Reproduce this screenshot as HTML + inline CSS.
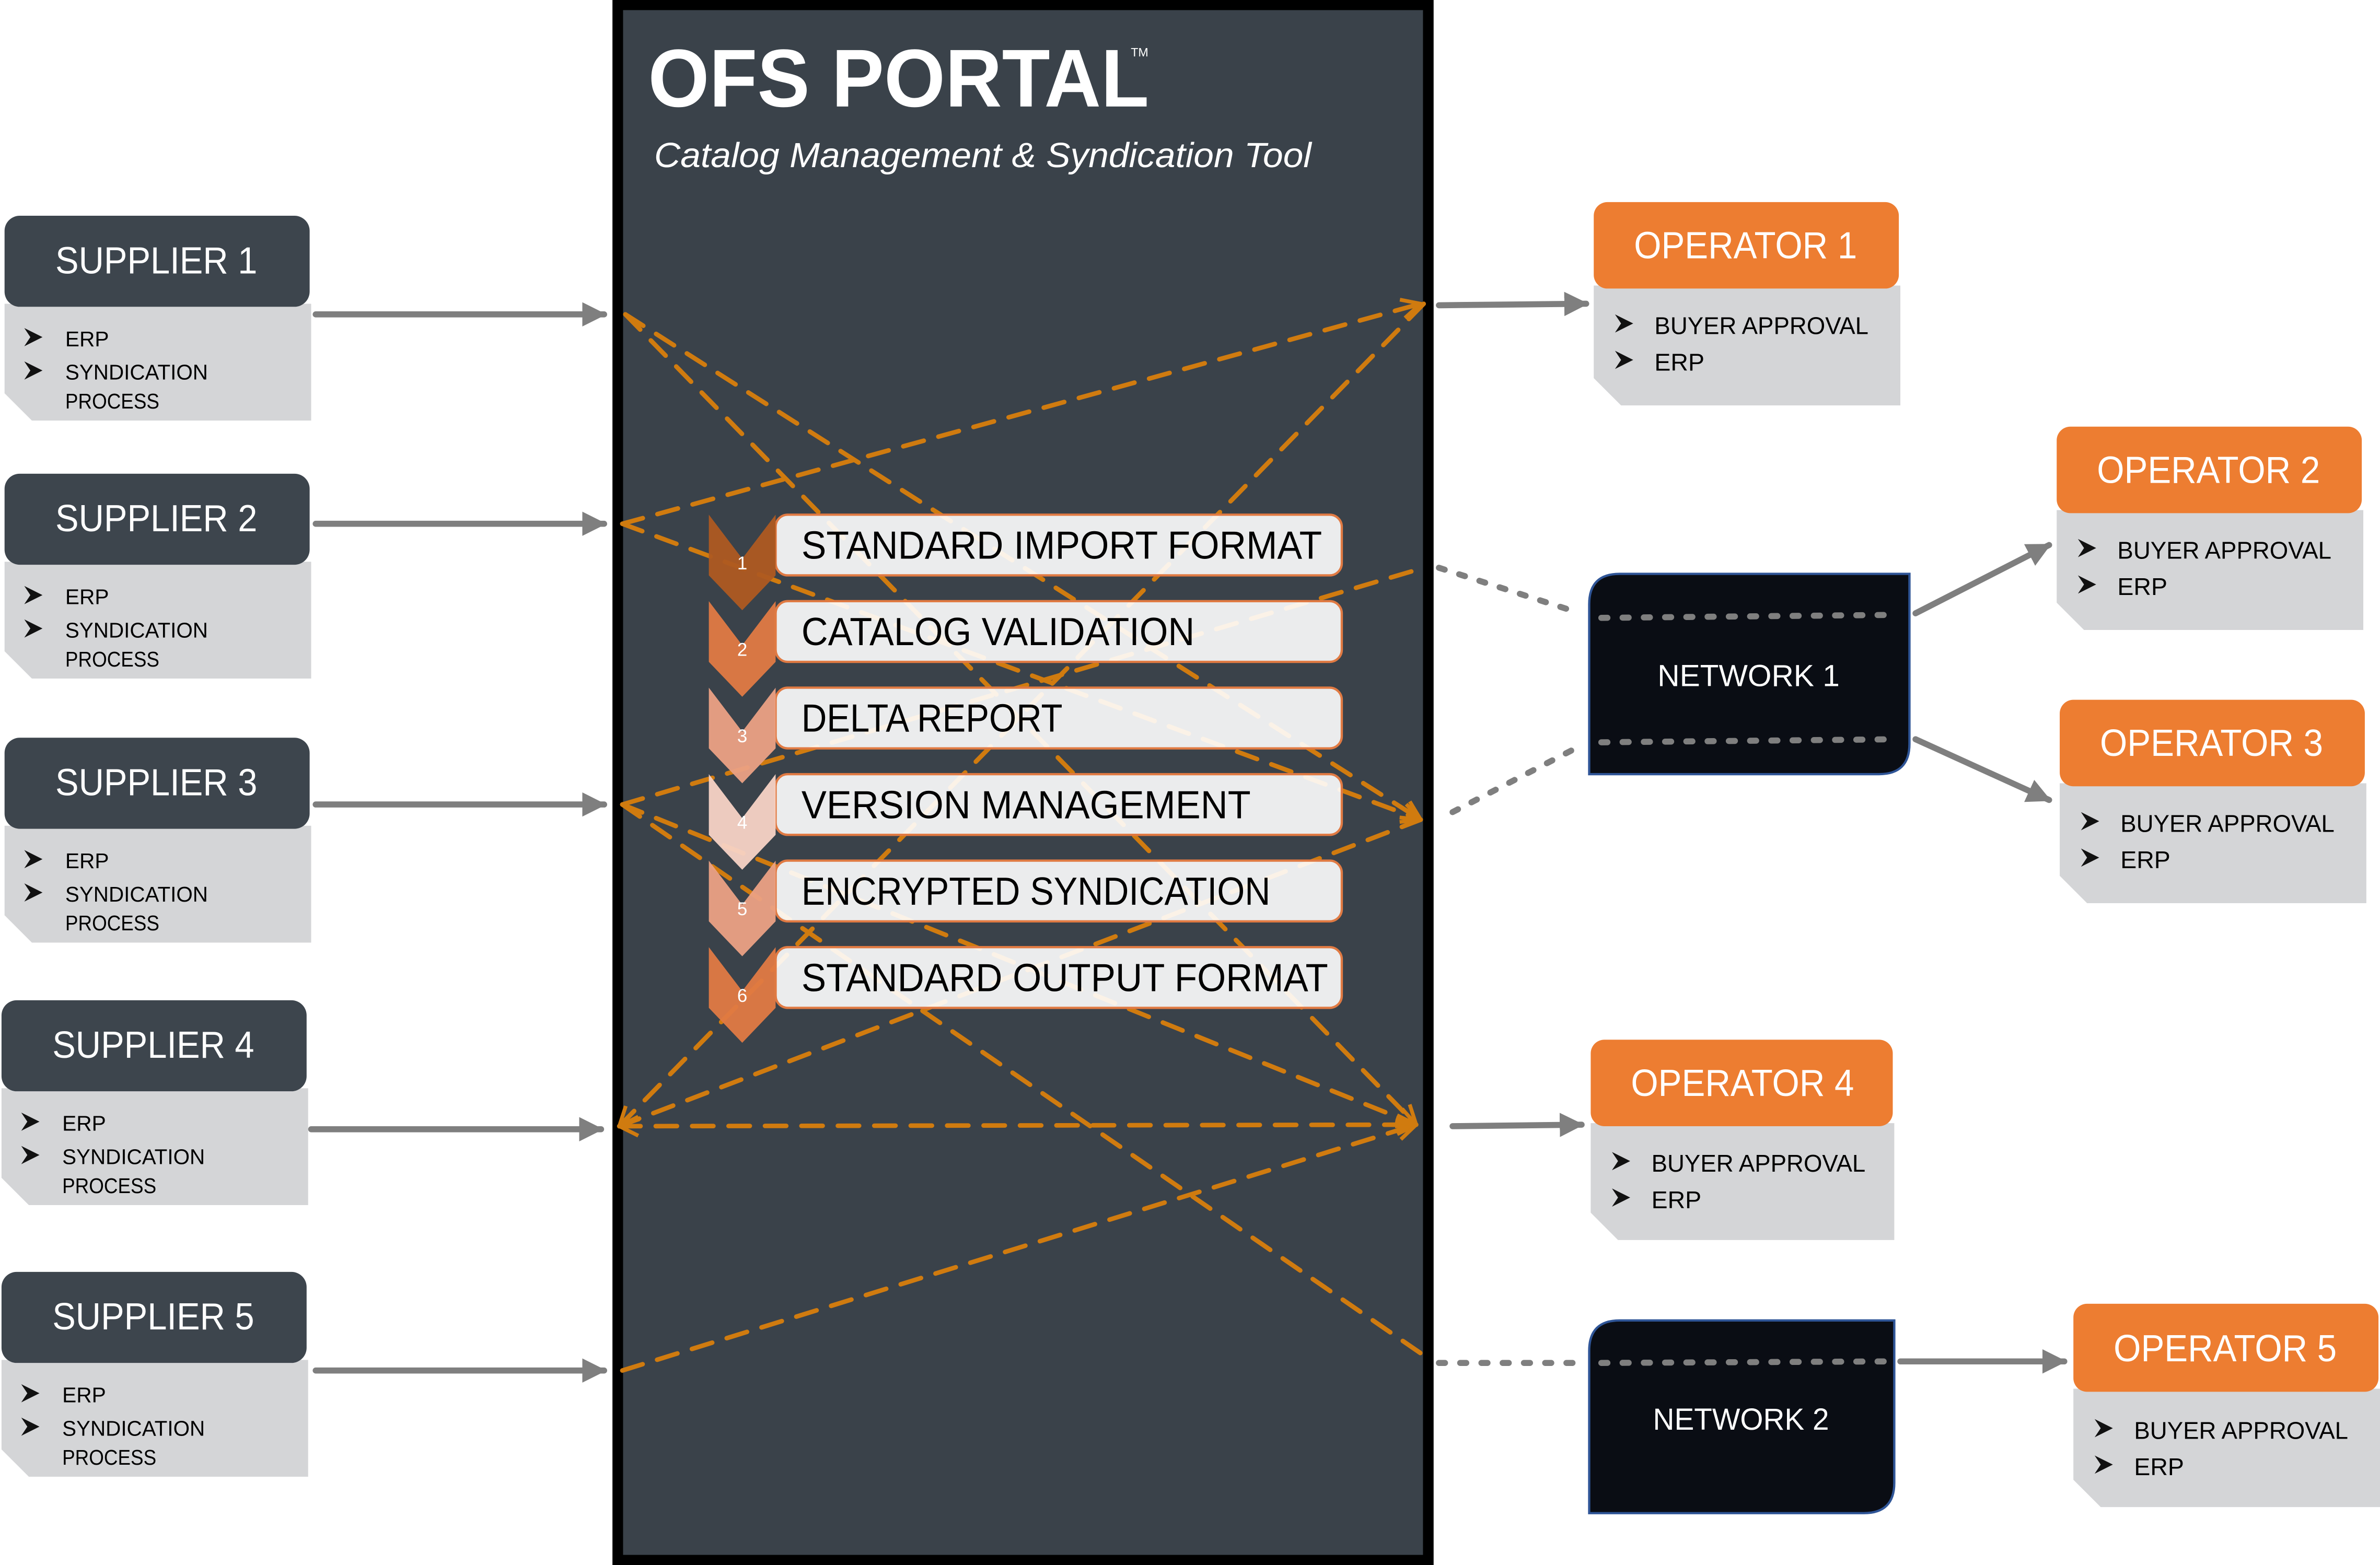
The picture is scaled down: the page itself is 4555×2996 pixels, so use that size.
<!DOCTYPE html>
<html><head><meta charset="utf-8"><style>html,body{margin:0;padding:0;background:#fff}svg{display:block}</style></head>
<body>
<svg width="4555" height="2996" viewBox="0 0 1568 1031" xmlns="http://www.w3.org/2000/svg" font-family="'Liberation Sans', 'DejaVu Sans', sans-serif">
<defs>
<marker id="ga" viewBox="0 0 10 10" refX="9" refY="5" markerWidth="4" markerHeight="4" orient="auto" markerUnits="strokeWidth"><path d="M0,0 L10,5 L0,10 z" fill="#7f7f7f"/></marker>
<marker id="oa" viewBox="0 0 12 12" refX="11" refY="6" markerWidth="5" markerHeight="5" orient="auto" markerUnits="strokeWidth"><path d="M1,1 L11,6 L1,11" fill="none" stroke="#d07b0f" stroke-width="2"/></marker>
<marker id="oas" viewBox="0 0 12 12" refX="11" refY="6" markerWidth="5" markerHeight="5" orient="auto-start-reverse" markerUnits="strokeWidth"><path d="M1,1 L11,6 L1,11" fill="none" stroke="#d07b0f" stroke-width="2"/></marker>
<g id="bul"><path d="M0,-6 L12,0 L0,6 L4,0 z" fill="#111"/></g>
</defs>
<rect width="1568" height="1031" fill="#fff"/>

<!-- Portal -->
<rect x="407" y="3" width="534" height="1025" fill="#3a424a" stroke="#000" stroke-width="7"/>
<text x="427" y="70" font-size="54" font-weight="bold" fill="#fff" textLength="330" lengthAdjust="spacingAndGlyphs">OFS PORTAL</text>
<text x="745" y="37" font-size="8" fill="#fff">TM</text>
<text x="431" y="110" font-size="23" font-style="italic" fill="#fff" textLength="433" lengthAdjust="spacingAndGlyphs">Catalog Management &amp; Syndication Tool</text>

<!-- orange dashed lines -->
<g stroke="#d07b0f" stroke-width="3" stroke-dasharray="14 10" fill="none" stroke-linecap="round">
<line x1="412" y1="207" x2="936" y2="540" marker-end="url(#oa)"/>
<line x1="412" y1="207" x2="933" y2="741" marker-end="url(#oa)"/>
<line x1="410" y1="345" x2="936" y2="200" marker-end="url(#oa)"/>
<line x1="410" y1="345" x2="936" y2="540" marker-end="url(#oa)"/>
<line x1="410" y1="530" x2="938" y2="374"/>
<line x1="410" y1="530" x2="933" y2="741" marker-end="url(#oa)"/>
<line x1="410" y1="530" x2="938" y2="893"/>
<line x1="408" y1="742" x2="938" y2="200" marker-start="url(#oas)"/>
<line x1="408" y1="742" x2="936" y2="540"/>
<line x1="408" y1="742" x2="933" y2="741" marker-start="url(#oas)" marker-end="url(#oa)"/>
<line x1="410" y1="903" x2="933" y2="741" marker-end="url(#oa)"/>
</g>

<!-- steps -->
<g>
<rect x="511" y="339" width="373" height="40" rx="8" fill="#fff" fill-opacity="0.9" stroke="#e07a43" stroke-width="1.5"/>
<polygon points="467,339 489,368 511,339 511,379 489,402 467,379" fill="#ae5a21" opacity="0.95"/>
<rect x="511" y="396" width="373" height="40" rx="8" fill="#fff" fill-opacity="0.9" stroke="#e07a43" stroke-width="1.5"/>
<polygon points="467,396 489,425 511,396 511,436 489,459 467,436" fill="#e07a43" opacity="0.95"/>
<rect x="511" y="453" width="373" height="40" rx="8" fill="#fff" fill-opacity="0.9" stroke="#e07a43" stroke-width="1.5"/>
<polygon points="467,453 489,482 511,453 511,493 489,516 467,493" fill="#eba184" opacity="0.95"/>
<rect x="511" y="510" width="373" height="40" rx="8" fill="#fff" fill-opacity="0.9" stroke="#e07a43" stroke-width="1.5"/>
<polygon points="467,510 489,539 511,510 511,550 489,573 467,550" fill="#f7d3c5" opacity="0.95"/>
<rect x="511" y="567" width="373" height="40" rx="8" fill="#fff" fill-opacity="0.9" stroke="#e07a43" stroke-width="1.5"/>
<polygon points="467,567 489,596 511,567 511,607 489,630 467,607" fill="#eba184" opacity="0.95"/>
<rect x="511" y="624" width="373" height="40" rx="8" fill="#fff" fill-opacity="0.9" stroke="#e07a43" stroke-width="1.5"/>
<polygon points="467,624 489,653 511,624 511,664 489,687 467,664" fill="#e07a43" opacity="0.95"/>
</g>
<g font-size="12" fill="#fff" text-anchor="middle">
<text x="489" y="375">1</text><text x="489" y="432">2</text><text x="489" y="489">3</text><text x="489" y="546">4</text><text x="489" y="603">5</text><text x="489" y="660">6</text>
</g>
<g font-size="26" fill="#000">
<text x="528" y="368" textLength="343" lengthAdjust="spacingAndGlyphs">STANDARD IMPORT FORMAT</text>
<text x="528" y="425" textLength="259" lengthAdjust="spacingAndGlyphs">CATALOG VALIDATION</text>
<text x="528" y="482" textLength="172" lengthAdjust="spacingAndGlyphs">DELTA REPORT</text>
<text x="528" y="539" textLength="296" lengthAdjust="spacingAndGlyphs">VERSION MANAGEMENT</text>
<text x="528" y="596" textLength="309" lengthAdjust="spacingAndGlyphs">ENCRYPTED SYNDICATION</text>
<text x="528" y="653" textLength="347" lengthAdjust="spacingAndGlyphs">STANDARD OUTPUT FORMAT</text>
</g>

<!-- Suppliers -->
<g transform="translate(3,142)">
<polygon points="0,58 202,58 202,135 18,135 0,117" fill="#d4d5d7"/>
<rect x="0" y="0" width="201" height="60" rx="10" fill="#3d454d"/>
<text x="100" y="38" font-size="25" fill="#fff" text-anchor="middle" textLength="133" lengthAdjust="spacingAndGlyphs">SUPPLIER 1</text>
<use href="#bul" x="13" y="80"/><use href="#bul" x="13" y="102"/>
<text x="40" y="86" font-size="14">ERP</text>
<text x="40" y="108" font-size="14" textLength="94" lengthAdjust="spacingAndGlyphs">SYNDICATION</text>
<text x="40" y="127" font-size="14" textLength="62" lengthAdjust="spacingAndGlyphs">PROCESS</text>
</g>
<g transform="translate(3,312)">
<polygon points="0,58 202,58 202,135 18,135 0,117" fill="#d4d5d7"/>
<rect x="0" y="0" width="201" height="60" rx="10" fill="#3d454d"/>
<text x="100" y="38" font-size="25" fill="#fff" text-anchor="middle" textLength="133" lengthAdjust="spacingAndGlyphs">SUPPLIER 2</text>
<use href="#bul" x="13" y="80"/><use href="#bul" x="13" y="102"/>
<text x="40" y="86" font-size="14">ERP</text>
<text x="40" y="108" font-size="14" textLength="94" lengthAdjust="spacingAndGlyphs">SYNDICATION</text>
<text x="40" y="127" font-size="14" textLength="62" lengthAdjust="spacingAndGlyphs">PROCESS</text>
</g>
<g transform="translate(3,486)">
<polygon points="0,58 202,58 202,135 18,135 0,117" fill="#d4d5d7"/>
<rect x="0" y="0" width="201" height="60" rx="10" fill="#3d454d"/>
<text x="100" y="38" font-size="25" fill="#fff" text-anchor="middle" textLength="133" lengthAdjust="spacingAndGlyphs">SUPPLIER 3</text>
<use href="#bul" x="13" y="80"/><use href="#bul" x="13" y="102"/>
<text x="40" y="86" font-size="14">ERP</text>
<text x="40" y="108" font-size="14" textLength="94" lengthAdjust="spacingAndGlyphs">SYNDICATION</text>
<text x="40" y="127" font-size="14" textLength="62" lengthAdjust="spacingAndGlyphs">PROCESS</text>
</g>
<g transform="translate(1,659)">
<polygon points="0,58 202,58 202,135 18,135 0,117" fill="#d4d5d7"/>
<rect x="0" y="0" width="201" height="60" rx="10" fill="#3d454d"/>
<text x="100" y="38" font-size="25" fill="#fff" text-anchor="middle" textLength="133" lengthAdjust="spacingAndGlyphs">SUPPLIER 4</text>
<use href="#bul" x="13" y="80"/><use href="#bul" x="13" y="102"/>
<text x="40" y="86" font-size="14">ERP</text>
<text x="40" y="108" font-size="14" textLength="94" lengthAdjust="spacingAndGlyphs">SYNDICATION</text>
<text x="40" y="127" font-size="14" textLength="62" lengthAdjust="spacingAndGlyphs">PROCESS</text>
</g>
<g transform="translate(1,838)">
<polygon points="0,58 202,58 202,135 18,135 0,117" fill="#d4d5d7"/>
<rect x="0" y="0" width="201" height="60" rx="10" fill="#3d454d"/>
<text x="100" y="38" font-size="25" fill="#fff" text-anchor="middle" textLength="133" lengthAdjust="spacingAndGlyphs">SUPPLIER 5</text>
<use href="#bul" x="13" y="80"/><use href="#bul" x="13" y="102"/>
<text x="40" y="86" font-size="14">ERP</text>
<text x="40" y="108" font-size="14" textLength="94" lengthAdjust="spacingAndGlyphs">SYNDICATION</text>
<text x="40" y="127" font-size="14" textLength="62" lengthAdjust="spacingAndGlyphs">PROCESS</text>
</g>

<!-- gray arrows -->
<g stroke="#7f7f7f" stroke-width="4" fill="none" stroke-linecap="round">
<line x1="208" y1="207" x2="398" y2="207" marker-end="url(#ga)"/>
<line x1="208" y1="345" x2="398" y2="345" marker-end="url(#ga)"/>
<line x1="208" y1="530" x2="398" y2="530" marker-end="url(#ga)"/>
<line x1="205" y1="744" x2="396" y2="744" marker-end="url(#ga)"/>
<line x1="208" y1="903" x2="398" y2="903" marker-end="url(#ga)"/>
<line x1="948" y1="201" x2="1045" y2="200" marker-end="url(#ga)"/>
<line x1="1262" y1="404" x2="1350" y2="359" marker-end="url(#ga)"/>
<line x1="1262" y1="487" x2="1350" y2="527" marker-end="url(#ga)"/>
<line x1="957" y1="742" x2="1042" y2="741" marker-end="url(#ga)"/>
<line x1="1252" y1="897" x2="1360" y2="897" marker-end="url(#ga)"/>
</g>
<g stroke="#7f7f7f" stroke-width="4" fill="none" stroke-linecap="round" stroke-dasharray="4 10">
<line x1="948" y1="374" x2="1035" y2="402"/>
<line x1="957" y1="535" x2="1038" y2="493"/>
<line x1="948" y1="898" x2="1040" y2="898"/>
</g>

<!-- Networks -->
<path d="M1067,378 H1258 V490 Q1258,510 1238,510 H1047 V398 Q1047,378 1067,378 z" fill="#0a0d14" stroke="#2f5597" stroke-width="1.5"/>
<g stroke="#7f7f7f" stroke-width="4" stroke-linecap="round" stroke-dasharray="4 10"><line x1="1055" y1="407" x2="1250" y2="405"/><line x1="1055" y1="489" x2="1250" y2="487"/></g>
<text x="1152" y="452" font-size="20" fill="#fff" text-anchor="middle" textLength="120" lengthAdjust="spacingAndGlyphs">NETWORK 1</text>
<path d="M1067,870 H1248 V977 Q1248,997 1228,997 H1047 V890 Q1047,870 1067,870 z" fill="#0a0d14" stroke="#2f5597" stroke-width="1.5"/>
<g stroke="#7f7f7f" stroke-width="4" stroke-linecap="round" stroke-dasharray="4 10"><line x1="1055" y1="898" x2="1242" y2="897"/></g>
<text x="1147" y="942" font-size="20" fill="#fff" text-anchor="middle" textLength="116" lengthAdjust="spacingAndGlyphs">NETWORK 2</text>

<!-- Operators -->
<g transform="translate(1050,133)">
<polygon points="0,55 202,55 202,134 18,134 0,116" fill="#d4d5d7"/>
<rect x="0" y="0" width="201" height="57" rx="9" fill="#ed7d31"/>
<text x="100" y="37" font-size="25" fill="#fff" text-anchor="middle" textLength="147" lengthAdjust="spacingAndGlyphs">OPERATOR 1</text>
<use href="#bul" x="14" y="80"/><use href="#bul" x="14" y="104"/>
<text x="40" y="87" font-size="16" textLength="141" lengthAdjust="spacingAndGlyphs">BUYER APPROVAL</text>
<text x="40" y="111" font-size="16">ERP</text>
</g>
<g transform="translate(1355,281)">
<polygon points="0,55 202,55 202,134 18,134 0,116" fill="#d4d5d7"/>
<rect x="0" y="0" width="201" height="57" rx="9" fill="#ed7d31"/>
<text x="100" y="37" font-size="25" fill="#fff" text-anchor="middle" textLength="147" lengthAdjust="spacingAndGlyphs">OPERATOR 2</text>
<use href="#bul" x="14" y="80"/><use href="#bul" x="14" y="104"/>
<text x="40" y="87" font-size="16" textLength="141" lengthAdjust="spacingAndGlyphs">BUYER APPROVAL</text>
<text x="40" y="111" font-size="16">ERP</text>
</g>
<g transform="translate(1357,461)">
<polygon points="0,55 202,55 202,134 18,134 0,116" fill="#d4d5d7"/>
<rect x="0" y="0" width="201" height="57" rx="9" fill="#ed7d31"/>
<text x="100" y="37" font-size="25" fill="#fff" text-anchor="middle" textLength="147" lengthAdjust="spacingAndGlyphs">OPERATOR 3</text>
<use href="#bul" x="14" y="80"/><use href="#bul" x="14" y="104"/>
<text x="40" y="87" font-size="16" textLength="141" lengthAdjust="spacingAndGlyphs">BUYER APPROVAL</text>
<text x="40" y="111" font-size="16">ERP</text>
</g>
<g transform="translate(1048,685)">
<polygon points="0,55 200,55 200,132 18,132 0,114" fill="#d4d5d7"/>
<rect x="0" y="0" width="199" height="57" rx="9" fill="#ed7d31"/>
<text x="100" y="37" font-size="25" fill="#fff" text-anchor="middle" textLength="147" lengthAdjust="spacingAndGlyphs">OPERATOR 4</text>
<use href="#bul" x="14" y="80"/><use href="#bul" x="14" y="104"/>
<text x="40" y="87" font-size="16" textLength="141" lengthAdjust="spacingAndGlyphs">BUYER APPROVAL</text>
<text x="40" y="111" font-size="16">ERP</text>
</g>
<g transform="translate(1366,859)">
<polygon points="0,56 202,56 202,134 18,134 0,116" fill="#d4d5d7"/>
<rect x="0" y="0" width="201" height="58" rx="9" fill="#ed7d31"/>
<text x="100" y="38" font-size="25" fill="#fff" text-anchor="middle" textLength="147" lengthAdjust="spacingAndGlyphs">OPERATOR 5</text>
<use href="#bul" x="14" y="82"/><use href="#bul" x="14" y="106"/>
<text x="40" y="89" font-size="16" textLength="141" lengthAdjust="spacingAndGlyphs">BUYER APPROVAL</text>
<text x="40" y="113" font-size="16">ERP</text>
</g>
</svg>
</body></html>
